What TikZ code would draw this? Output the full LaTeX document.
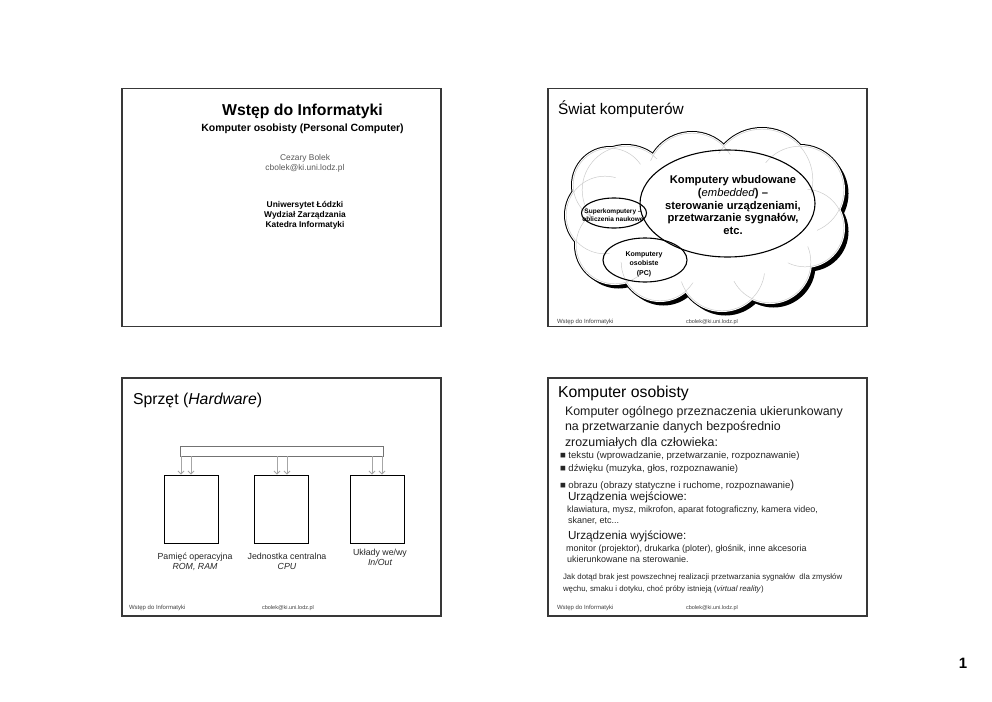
\documentclass[tikz,border=0pt]{standalone}
\usepackage{fontspec}
\setmainfont{Liberation Sans}
\usetikzlibrary{shapes.geometric,arrows.meta}
\newcommand{\myfs}[2]{\fontsize{#1pt}{#2pt}\selectfont}
\begin{document}
\begin{tikzpicture}[x=1pt,y=-1pt,
  slide/.style={draw=black!78, line width=1.3pt, fill=white, inner sep=0pt, minimum width=319pt, minimum height=238pt},
  tx/.style={inner sep=0pt, outer sep=0pt, text=black},
  foot/.style={tx, font=\myfs{6}{7}, text=black!75},
  footmail/.style={tx, font=\myfs{5.5}{7}, text=black!75},
  el/.style={ellipse, draw=black, line width=1.1pt, inner sep=0pt},
  hwbox/.style={draw=black, line width=0.9pt, inner sep=0pt, minimum width=54pt, minimum height=68pt},
  busarr/.style={draw=black!35, line width=0.8pt, -{Straight Barb[length=3pt,width=6pt]}},
]
\useasboundingbox (0,0) rectangle (992,701);
\fill[white] (0,0) rectangle (992,701);

% slide frames
\node[slide] (s1) at (281.5,207.5) {};
\node[slide] (s2) at (707.5,207.5) {};
\node[slide] (s3) at (281.5,497) {};
\node[slide] (s4) at (707.5,497) {};

% ---------- slide 1
\node[tx, anchor=base, font=\bfseries\myfs{15.8}{18}] (t1) at (302.5,115.5) {Wstęp do Informatyki};
\node[tx, anchor=base, font=\bfseries\myfs{10.5}{12}] (t2) at (302.5,131.5) {Komputer osobisty (Personal Computer)};
\node[tx, anchor=base, font=\myfs{8.4}{10}, text=black!65] (t3) at (305,160) {Cezary Bolek};
\node[tx, anchor=base, font=\myfs{8.4}{10}, text=black!65] (t4) at (305,170) {cbolek@ki.uni.lodz.pl};
\node[tx, anchor=base, font=\bfseries\myfs{8.4}{10}] (t5) at (305,207) {Uniwersytet Łódzki};
\node[tx, anchor=base, font=\bfseries\myfs{8.4}{10}] (t6) at (305,217) {Wydział Zarządzania};
\node[tx, anchor=base, font=\bfseries\myfs{8.4}{10}] (t7) at (305,227) {Katedra Informatyki};

% ---------- slide 2
\node[tx, anchor=base west, font=\myfs{15.4}{18}] (t8) at (558,114) {Świat komputerów};
% cloud built from overlapping circles
\def\cloudlist{626/190/45, 610/185/38, 692/178/46, 762/180/52, 800/190/45, 805/228/40, 770/262/42, 722/268/44, 660/262/40, 615/245/40, 605/215/40}
\foreach \cx/\cy/\r in \cloudlist { \fill[black] (\cx+3.5,\cy+3.5) circle[radius=\r pt]; }
\foreach \cx/\cy/\r in \cloudlist { \filldraw[fill=white, draw=black, line width=2pt] (\cx,\cy) circle[radius=\r pt]; }
\foreach \cx/\cy/\r in \cloudlist { \fill[white] (\cx,\cy) circle[radius=\r pt]; }
\foreach \cx/\cy/\r in \cloudlist { \draw[black!20, line width=0.5pt] (\cx,\cy) circle[radius=\r pt - 1.2pt]; }
\fill[white] (705,218) ellipse[x radius=114pt, y radius=65pt];
\node[el, minimum width=175pt, minimum height=107pt] (emb) at (727.5,203.5) {};
\node[el, minimum width=65pt, minimum height=30pt] (sup) at (614,213) {};
\node[el, minimum width=84pt, minimum height=44pt] (pc) at (645,260) {};
\node[tx, align=center, font=\bfseries\myfs{11.2}{12.6}] (embt) at (733,205) {Komputery wbudowane\\(\textit{\mdseries embedded}) –\\sterowanie urządzeniami,\\przetwarzanie sygnałów,\\etc.};
\node[tx, align=center, font=\bfseries\myfs{6.5}{8.4}] (supt) at (613,215) {Superkomputery –\\obliczenia naukowe};
\node[tx, align=center, font=\bfseries\myfs{7}{9.5}] (pct) at (644,264) {Komputery\\osobiste\\(PC)};
\node[foot, anchor=base west] (f2a) at (557,323) {Wstęp do Informatyki};
\node[footmail, anchor=base] (f2b) at (712,323) {cbolek@ki.uni.lodz.pl};

% ---------- slide 3
\node[tx, anchor=base west, font=\myfs{15.8}{18}] (t20) at (133,404) {Sprzęt (\textit{Hardware})};
\node[draw=black!55, line width=0.8pt, minimum width=203pt, minimum height=10pt, inner sep=0pt] (bus) at (281.5,451) {};
\node[hwbox] (mem) at (191,509) {};
\node[hwbox] (cpu) at (281.5,509) {};
\node[hwbox] (io) at (377.5,509) {};
\coordinate (a1) at (181,0); \coordinate (a2) at (191,0);
\coordinate (a3) at (277,0); \coordinate (a4) at (287,0);
\coordinate (a5) at (372,0); \coordinate (a6) at (382,0);
\draw[busarr] (bus.south -| a1) -- (mem.north -| a1);
\draw[busarr] (bus.south -| a2) -- (mem.north -| a2);
\draw[busarr] (bus.south -| a3) -- (cpu.north -| a3);
\draw[busarr] (bus.south -| a4) -- (cpu.north -| a4);
\draw[busarr] (bus.south -| a5) -- (io.north -| a5);
\draw[busarr] (bus.south -| a6) -- (io.north -| a6);
\node[tx, anchor=base, font=\myfs{8.8}{10}, text=black!85] (l1) at (195,559) {Pamięć operacyjna};
\node[tx, anchor=base, font=\itshape\myfs{8.8}{10}, text=black!85] (l2) at (195,569.5) {ROM, RAM};
\node[tx, anchor=base, font=\myfs{8.8}{10}, text=black!85] (l3) at (287,559) {Jednostka centralna};
\node[tx, anchor=base, font=\itshape\myfs{8.8}{10}, text=black!85] (l4) at (287,569.5) {CPU};
\node[tx, anchor=base, font=\myfs{8.8}{10}, text=black!85] (l5) at (380,555.5) {Układy we/wy};
\node[tx, anchor=base, font=\itshape\myfs{8.8}{10}, text=black!85] (l6) at (380,565) {In/Out};
\node[foot, anchor=base west] (f3a) at (129,609) {Wstęp do Informatyki};
\node[footmail, anchor=base] (f3b) at (288,609) {cbolek@ki.uni.lodz.pl};

% ---------- slide 4
\node[tx, anchor=base west, font=\myfs{15.8}{18}] (t30) at (558,397) {Komputer osobisty};
\node[tx, anchor=base west, font=\myfs{12.4}{15}, text=black!90] (b1) at (565,415) {Komputer ogólnego przeznaczenia ukierunkowany};
\node[tx, anchor=base west, font=\myfs{12.4}{15}, text=black!90] (b2) at (565,430.5) {na przetwarzanie danych bezpośrednio};
\node[tx, anchor=base west, font=\myfs{12.4}{15}, text=black!90] (b3) at (565,446) {zrozumiałych dla człowieka:};
\node[tx, anchor=base west, font=\myfs{9.6}{11}, text=black!85] (c1) at (560,458.5) {■ tekstu (wprowadzanie, przetwarzanie, rozpoznawanie)};
\node[tx, anchor=base west, font=\myfs{9.6}{11}, text=black!85] (c2) at (560,471.5) {■ dźwięku (muzyka, głos, rozpoznawanie)};
\node[tx, anchor=base west, font=\myfs{9.6}{11}, text=black!85] (c3) at (560,488.5) {■ obrazu (obrazy statyczne i ruchome, rozpoznawanie{\myfs{11.5}{12})}};
\node[tx, anchor=base west, font=\myfs{11.7}{13}, text=black!90] (d1) at (568,500.8) {Urządzenia wejściowe:};
\node[tx, anchor=base west, font=\myfs{9}{10}, text=black!85] (d2) at (567,512) {klawiatura, mysz, mikrofon, aparat fotograficzny, kamera video,};
\node[tx, anchor=base west, font=\myfs{9}{10}, text=black!85] (d3) at (568,523) {skaner, etc...};
\node[tx, anchor=base west, font=\myfs{11.7}{13}, text=black!90] (d4) at (568,539.8) {Urządzenia wyjściowe:};
\node[tx, anchor=base west, font=\myfs{9}{10}, text=black!85] (d5) at (566,551) {monitor (projektor), drukarka (ploter), głośnik, inne akcesoria};
\node[tx, anchor=base west, font=\myfs{9}{10}, text=black!85] (d6) at (567,562) {ukierunkowane na sterowanie.};
\node[tx, anchor=base west, font=\myfs{7.85}{9}, text=black!85] (e1) at (563,579.5) {Jak dotąd brak jest powszechnej realizacji przetwarzania sygnałów\ \ dla zmysłów};
\node[tx, anchor=base west, font=\myfs{7.85}{9}, text=black!85] (e2) at (563,591.5) {węchu, smaku i dotyku, choć próby istnieją (\textit{virtual reality})};
\node[foot, anchor=base west] (f4a) at (557,609) {Wstęp do Informatyki};
\node[footmail, anchor=base] (f4b) at (712,609) {cbolek@ki.uni.lodz.pl};

% page number
\node[tx, font=\bfseries\myfs{15}{18}] (pg) at (963,663) {1};
\end{tikzpicture}
\end{document}
